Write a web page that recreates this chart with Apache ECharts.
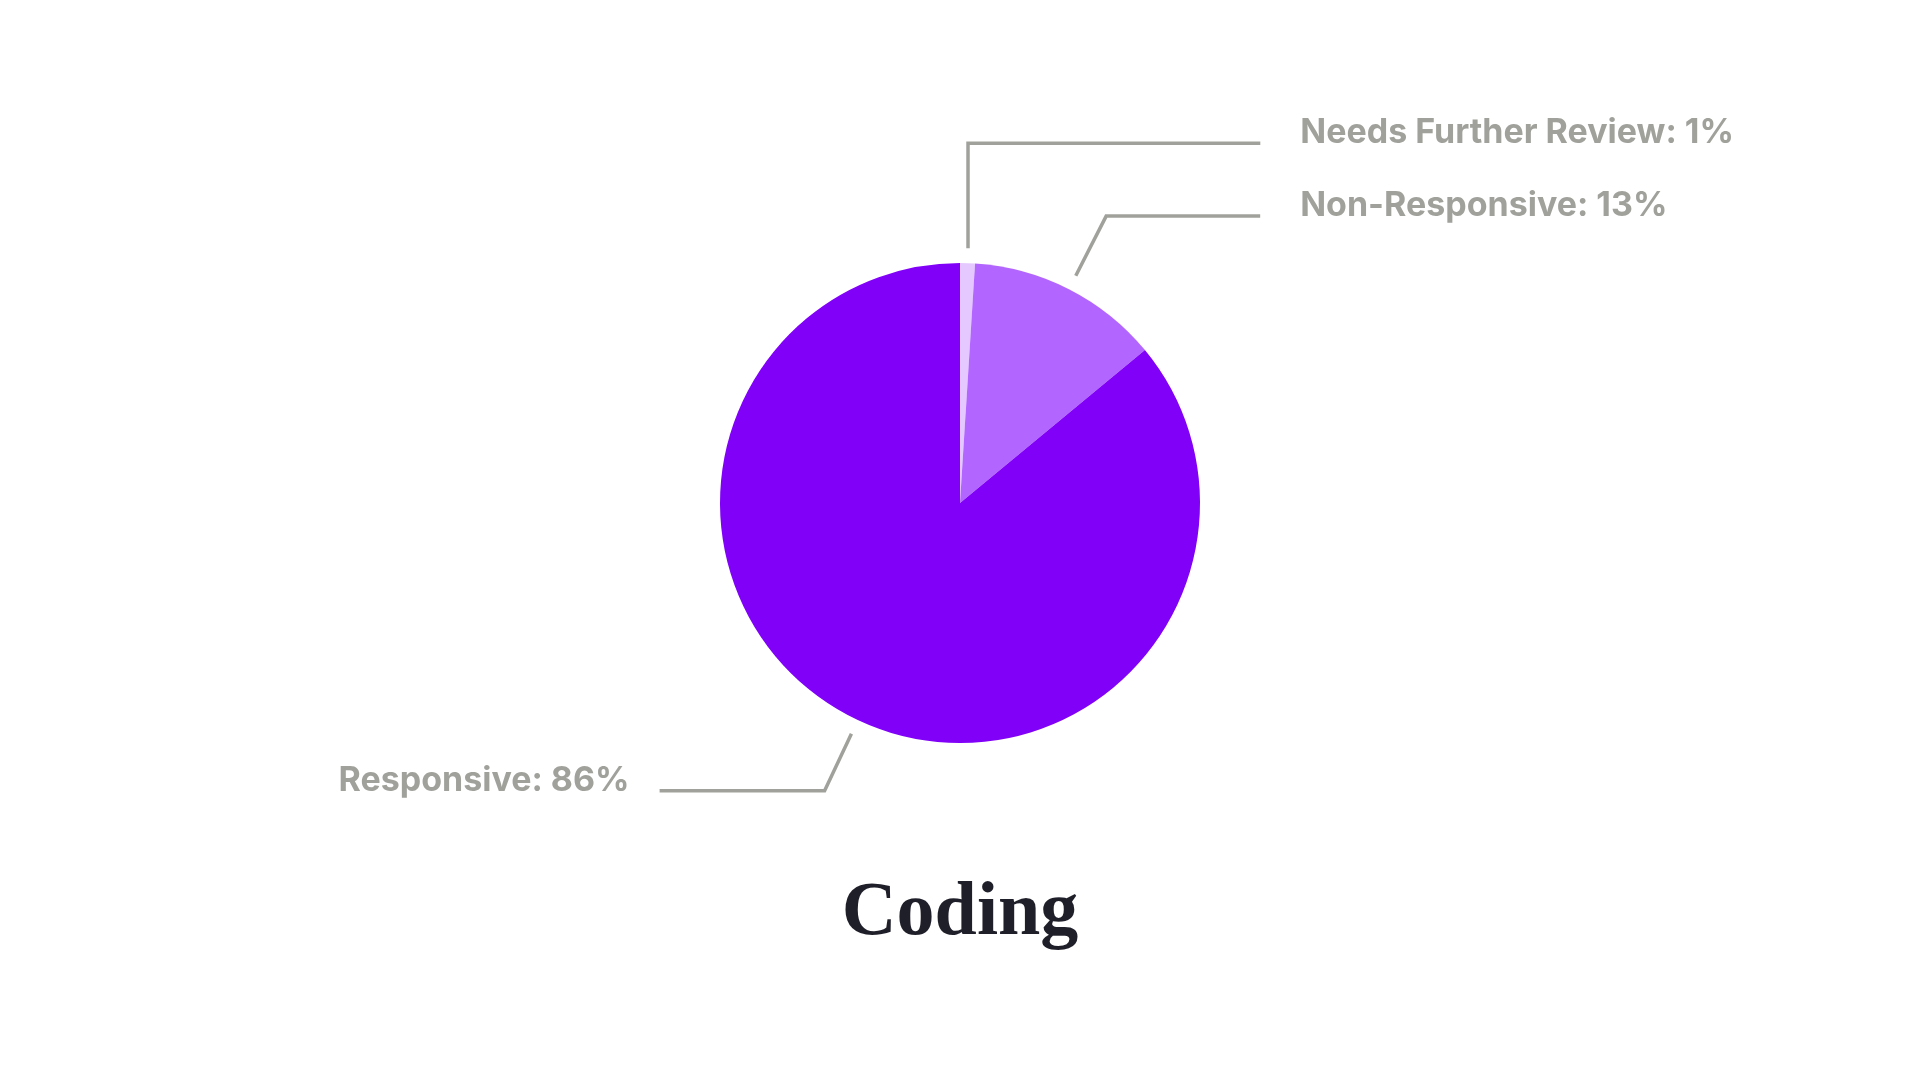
<!DOCTYPE html>
<html lang="en">
<head>
    <meta charset="UTF-8">
    <title>Coding</title>
    <script type="text/javascript" src="https://cdn.jsdelivr.net/npm/echarts@6/dist/echarts.min.js"></script>
    <style>
        html, body { margin: 0; padding: 0; background: #ffffff; }
        #pie { width: 1920px; height: 1080px; }
    </style>
</head>
<body>
    <div id="pie"></div>
    <script>
        // data
        var categories = ['Needs Further Review', 'Non-Responsive', 'Responsive'];
        var shares = [1, 13, 86];
        var sliceColors = ['#e4c8ff', '#b366ff', '#8000f8'];

        // leader line layout: radial part and horizontal part, per slice
        var radialLen = [120, 82, 78];
        var flatLen = [289, 154, 165];
        var textGap = [40, 40, 30];
        var lineGap = 15; // gap between pie edge and line start

        var chart = echarts.init(document.getElementById('pie'));

        var items = [];
        for (var i = 0; i < categories.length; i++) {
            items[i] = {
                name: categories[i],
                value: shares[i],
                itemStyle: { color: sliceColors[i] },
                label: { distanceToLabelLine: textGap[i] },
                labelLine: { length: radialLen[i], length2: flatLen[i] }
            };
        }

        var option = {
            animation: false,
            title: {
                text: 'Coding',
                left: 'center',
                top: 871,
                textStyle: {
                    fontFamily: 'Liberation Serif',
                    fontWeight: 'bold',
                    fontSize: 76,
                    lineHeight: 76,
                    color: '#1f1f2a'
                }
            },
            series: [{
                type: 'pie',
                center: [960, 503],
                radius: 240,
                startAngle: 90,
                clockwise: true,
                avoidLabelOverlap: false,
                data: items,
                label: {
                    formatter: '{b}: {c}%',
                    color: '#a1a19c',
                    fontFamily: 'Inter',
                    fontWeight: 'bold',
                    fontSize: 34
                },
                labelLine: {
                    show: true,
                    lineStyle: { color: '#a1a19c', width: 3.5 }
                },
                labelLayout: function (params) {
                    var pts = params.labelLinePoints;
                    if (!pts) return {};
                    var p0 = pts[0], p1 = pts[1];
                    var dx = p1[0] - p0[0], dy = p1[1] - p0[1];
                    var len = Math.sqrt(dx * dx + dy * dy);
                    var start = [p0[0] + dx / len * lineGap, p0[1] + dy / len * lineGap];
                    var bend = [p1[0], p1[1]];
                    // near-vertical leader goes straight up
                    if (Math.abs(dx) < 0.1 * len) bend[0] = start[0];
                    return { dy: -10, labelLinePoints: [start, bend, pts[2]] };
                },
                emphasis: { disabled: true }
            }]
        };
        chart.setOption(option);
    </script>
</body>
</html>
